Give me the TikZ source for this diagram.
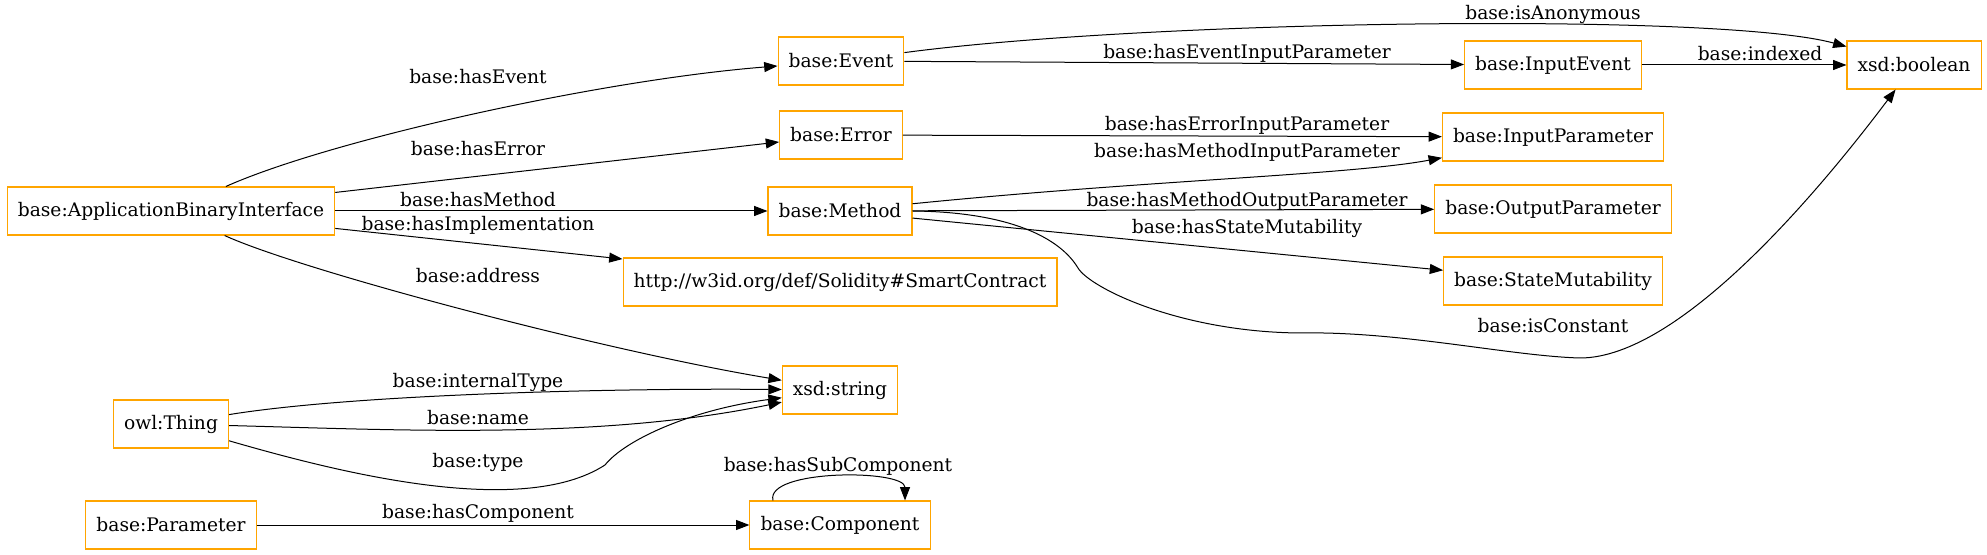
\documentclass[tikz,border=0pt]{standalone}
\usepackage{fontspec}
\setmainfont{DejaVu Serif}
\usepackage{tikz}
\usetikzlibrary{arrows.meta}
\definecolor{gvorange}{HTML}{FFA500}
\tikzset{
  cls/.style={rectangle, draw=gvorange, line width=0.8pt, inner xsep=7.92pt, inner ysep=0pt,
    minimum height=36pt, minimum width=54pt, font=\fontsize{14}{16}\selectfont},
  prop/.style={-{Triangle[length=10pt,width=7.5pt]}, line width=0.75pt},
  lbl/.style={inner sep=0pt, font=\fontsize{14}{16}\selectfont}
}

\begin{document}
\begin{tikzpicture}[x=0.75pt, y=-0.75pt]
\useasboundingbox (0,0) rectangle (1987,555);

% classes
\node[cls] (ABI) at (171,211) {base:ApplicationBinaryInterface};
\node[cls] (Thg) at (171,424) {owl:Thing};
\node[cls] (Par) at (171,525) {base:Parameter};
\node[cls] (Evt) at (841,61) {base:Event};
\node[cls] (Err) at (841,135) {base:Error};
\node[cls] (Meth) at (840,211) {base:Method};
\node[cls] (SC) at (840,282) {http://w3id.org/def/Solidity\#SmartContract};
\node[cls] (Str) at (840,390) {xsd:string};
\node[cls] (Cmp) at (840,525) {base:Component};
\node[cls] (IEv) at (1553,65) {base:InputEvent};
\node[cls] (IPa) at (1553,137) {base:InputParameter};
\node[cls] (OPa) at (1553,209) {base:OutputParameter};
\node[cls] (SMu) at (1553,281) {base:StateMutability};
\node[cls] (Bool) at (1914,65) {xsd:boolean};

% properties
\draw[prop] (ABI) .. controls (330,140) and (600,80) .. (Evt);
\draw[prop] (ABI) -- (Err);
\draw[prop] (ABI) -- (Meth);
\draw[prop] (ABI) -- (SC);
\draw[prop] (ABI) .. controls (300,270) and (600,350) .. (Str);
\draw[prop] (Thg) .. controls (350,395) and (600,388) .. (Str);
\draw[prop] (Thg) .. controls (400,430) and (600,440) .. (Str);
\draw[prop] (Thg) .. controls (330,470) and (520,520) .. (605,465)
  .. controls (625,440) and (690,410) .. (Str);
\draw[prop] (Par) -- (Cmp);
\draw[prop] ([shift={(-67,0)}]Cmp.north) .. controls (765,469) and (905,469) .. ([shift={(65,0)}]Cmp.north);
\draw[prop] (Evt) -- (IEv);
\draw[prop] (Evt) .. controls (1150,20) and (1720,12) .. (Bool);
\draw[prop] (IEv) -- (Bool);
\draw[prop] (Err) -- (IPa);
\draw[prop] (Meth) .. controls (1150,180) and (1350,175) .. (IPa);
\draw[prop] (Meth) -- (OPa);
\draw[prop] (Meth) -- (SMu);
\draw[prop] (Meth.east) .. controls (1010,212) and (1060,238) .. (1078,268)
  .. controls (1090,288) and (1180,332) .. (1300,333)
  .. controls (1400,331) and (1510,356) .. (1580,358)
  .. controls (1680,358) and (1820,190) .. (Bool);

% labels
\node[lbl] (lEvt) at (478,77) {base:hasEvent};
\node[lbl] (lErr) at (478,149) {base:hasError};
\node[lbl] (lMeth) at (478,200) {base:hasMethod};
\node[lbl] (lImpl) at (478,225) {base:hasImplementation};
\node[lbl] (lAddr) at (478,276) {base:address};
\node[lbl] (lIType) at (478,382) {base:internalType};
\node[lbl] (lName) at (478,418) {base:name};
\node[lbl] (lType) at (478,462) {base:type};
\node[lbl] (lCmp) at (478,513) {base:hasComponent};
\node[lbl] (lSub) at (838,466) {base:hasSubComponent};
\node[lbl] (lEIP) at (1247,53) {base:hasEventInputParameter};
\node[lbl] (lAnon) at (1553,14) {base:isAnonymous};
\node[lbl] (lIdx) at (1760,54) {base:indexed};
\node[lbl] (lErIP) at (1247,125) {base:hasErrorInputParameter};
\node[lbl] (lMIP) at (1247,152) {base:hasMethodInputParameter};
\node[lbl] (lMOP) at (1247,201) {base:hasMethodOutputParameter};
\node[lbl] (lSM) at (1247,228) {base:hasStateMutability};
\node[lbl] (lConst) at (1553,326) {base:isConstant};
\end{tikzpicture}
\end{document}
